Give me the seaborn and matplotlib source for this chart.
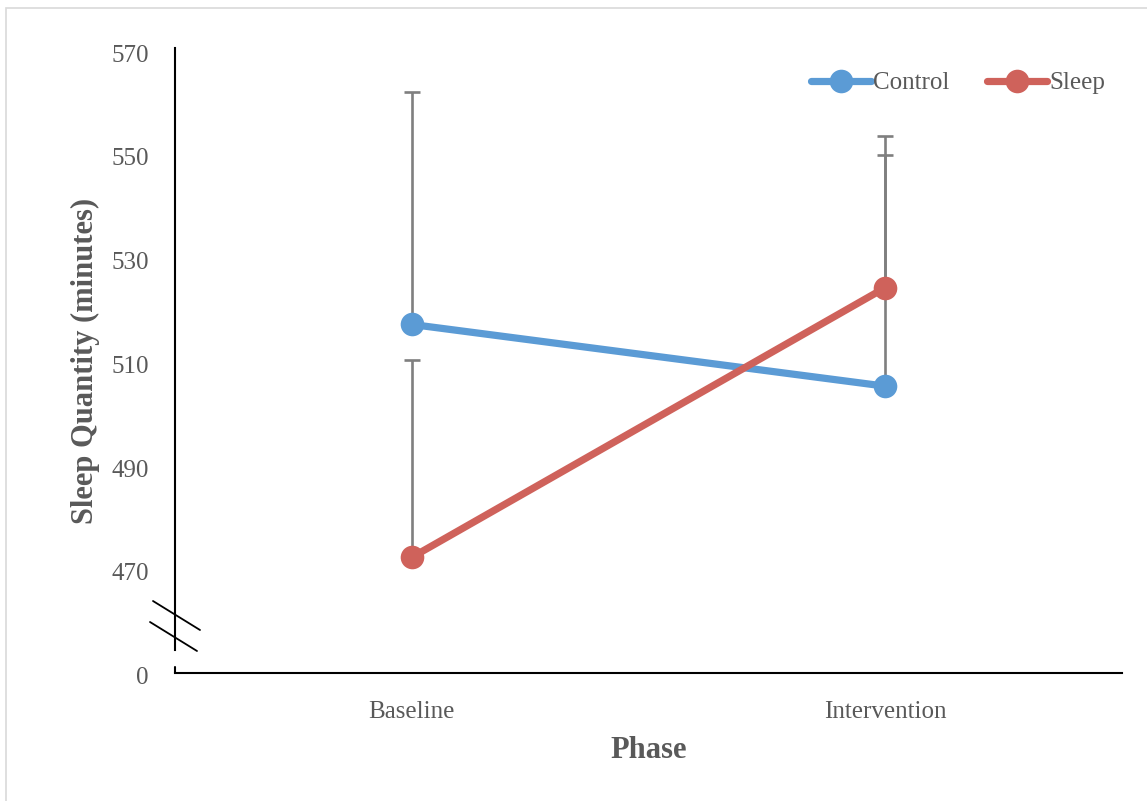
import matplotlib
matplotlib.use("Agg")
import matplotlib.pyplot as plt
from matplotlib.lines import Line2D
from matplotlib.patches import Rectangle
from matplotlib.transforms import ScaledTranslation
import seaborn as sns
import pandas as pd

phases = ["Baseline", "Intervention"]
groups = ["Control", "Sleep"]
control_mean = [517.2, 505.3]
sleep_mean = [472.3, 524.3]
control_err = [44.8, 44.6]
sleep_err = [38.0, 29.2]
ytick_values = [450, 470, 490, 510, 530, 550, 570]
ytick_labels = ["0", "470", "490", "510", "530", "550", "570"]

colors = {"Control": "#5B9BD5", "Sleep": "#CF625B"}
text_gray = "#595959"

sns.set_style("white")
plt.rcParams["font.family"] = ["Liberation Serif", "DejaVu Serif"]

df = pd.DataFrame({
    "Phase": phases * 2,
    "Group": ["Control"] * 2 + ["Sleep"] * 2,
    "Minutes": control_mean + sleep_mean,
})

fig = plt.figure(figsize=(11.47, 8.01), dpi=100)
W, H = 1147, 801
ax = fig.add_axes([175 / W, 1 - 673 / H, (1122 - 175) / W, (673 - 48) / H])

# error bars (upper only), drawn behind lines
for means, errs in [(control_mean, control_err), (sleep_mean, sleep_err)]:
    ax.errorbar([0, 1], means, yerr=[[0, 0], errs], fmt="none",
                ecolor="#7F7F7F", elinewidth=1.9, capsize=6, capthick=1.9, zorder=1)

sns.lineplot(data=df, x="Phase", y="Minutes", hue="Group", hue_order=groups,
             palette=colors, marker="o", markersize=17, markeredgewidth=0,
             linewidth=5.2, sort=False, ax=ax, zorder=3, legend=False)

ax.set_xlim(-0.5, 1.5)
ax.set_ylim(450, 570.5)
ax.set_yticks(ytick_values)
ax.set_yticklabels(ytick_labels)
ax.tick_params(axis="both", length=0, labelsize=18, colors=text_gray)
ax.tick_params(axis="y", pad=19)
ax.tick_params(axis="x", pad=20)
shift = ScaledTranslation(0, -0.025, fig.dpi_scale_trans)
for tick in ax.yaxis.get_major_ticks():
    tick.label1.set_transform(tick.label1.get_transform() + shift)

for s in ["top", "right"]:
    ax.spines[s].set_visible(False)
ax.spines["left"].set_bounds(454.4, 570.5)
ax.spines["left"].set_color("black")
ax.spines["left"].set_linewidth(1.5)
ax.spines["bottom"].set_color("black")
ax.spines["bottom"].set_linewidth(1.5)
# small corner piece of y-axis under the break
ax.plot([-0.5, -0.5], [450, 451.2], color="black", lw=1.5, clip_on=False, zorder=5)

ax.set_xlabel("Phase", fontsize=22, fontweight="bold", color=text_gray)
ax.set_ylabel("Sleep Quantity (minutes)", fontsize=22, fontweight="bold", color=text_gray)
ax.xaxis.set_label_coords(0.5, -0.1)
ax.yaxis.set_label_coords(-0.079, 0.5)

# axis break marks
for (x0, y0, x1, y1) in [(153, 601, 200, 630), (150, 622, 197, 651)]:
    fig.add_artist(Line2D([x0 / W, x1 / W], [1 - y0 / H, 1 - y1 / H],
                          transform=fig.transFigure, color="black", lw=1.3))

# legend
handles = [Line2D([], [], color=colors[g], marker="o", markersize=17,
                  markeredgewidth=0, linewidth=5.2) for g in groups]
leg = fig.legend(handles, groups, loc="center", bbox_to_anchor=(958 / W, 1 - 83 / H),
                 bbox_transform=fig.transFigure, ncol=2, frameon=False,
                 fontsize=18, handlelength=2.4, handletextpad=0.1,
                 columnspacing=1.5, borderpad=0)
for t in leg.get_texts():
    t.set_color(text_gray)

# chart area border
fig.add_artist(Rectangle((6 / W, -0.02), 1.05, 1 - 8 / H + 0.02,
                         transform=fig.transFigure, fill=False,
                         edgecolor="#D9D9D9", lw=1.2))

fig.savefig("out.png", dpi=100)
